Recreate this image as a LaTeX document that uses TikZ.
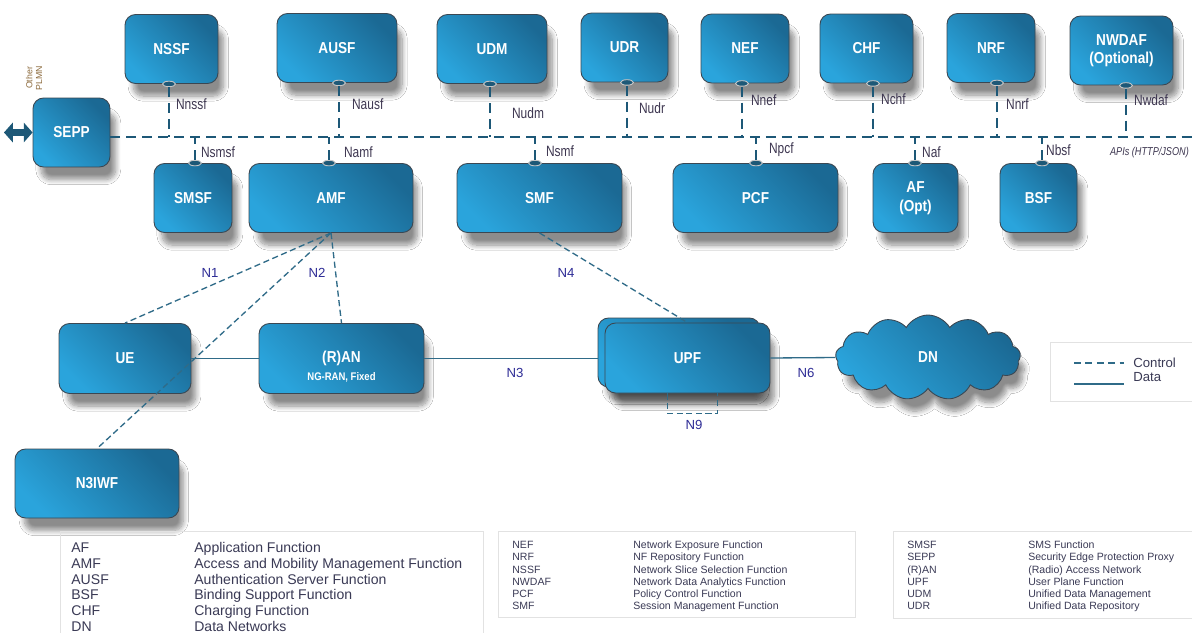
\documentclass[tikz,border=0pt]{standalone}
\usepackage{fontspec}
\setmainfont{Liberation Sans}
\newfontfamily\narrowfont{Liberation Sans}[FakeStretch=0.8]
\newfontfamily\boxfont{Liberation Sans}[FakeStretch=0.86]
\usepackage{tikz}
\usetikzlibrary{shapes.geometric, shapes.symbols, arrows.meta, positioning, shadows.blur}

\definecolor{nfdark}{HTML}{1B6994}
\definecolor{nflight}{HTML}{2AA4DC}
\definecolor{nfedge}{HTML}{3B4752}
\definecolor{sbi}{HTML}{1D5877}
\definecolor{ifc}{HTML}{3D3650}
\definecolor{refc}{HTML}{2E2C96}
\definecolor{lnk}{HTML}{2F6B88}
\definecolor{txtc}{HTML}{3A3A55}
\definecolor{framec}{HTML}{E2E2E2}
\definecolor{plmnc}{HTML}{8C6A3C}

\begin{document}
\begin{tikzpicture}[x=0.02cm, y=-0.02cm,
    nf/.style={draw=nfedge, line width=0.5pt, rounded corners=6pt,
      top color=nfdark, bottom color=nflight, shading angle=-45,
      minimum height=1.38cm, text=white, align=center,
      font=\boxfont\bfseries\fontsize{9}{10.5}\selectfont,
      blur shadow={shadow xshift=4pt, shadow yshift=-8pt, shadow scale=0.97,
        shadow opacity=45, shadow blur radius=3pt, shadow blur steps=10}},
    port/.style={ellipse, draw=gray!45, fill=sbi, line width=0.5pt,
      minimum width=0.26cm, minimum height=0.11cm, inner sep=0pt},
    sbiline/.style={sbi, line width=1.6pt, dash pattern=on 5.7pt off 3.4pt},
    ifl/.style={text=ifc, font=\narrowfont\fontsize{8.5}{10}\selectfont, anchor=west, inner sep=1pt},
    ref/.style={text=refc, font=\fontsize{7.5}{9}\selectfont, inner sep=1pt},
    ctrl/.style={lnk, line width=0.75pt, dash pattern=on 3.5pt off 2pt},
    data/.style={lnk, line width=0.75pt},
    frm/.style={draw=framec, line width=0.6pt, anchor=north west, inner sep=0pt},
    abbr/.style={anchor=north west, inner sep=0pt, text=txtc}]

  \path[fill=white, use as bounding box] (0,0) rectangle (1192,632);

  % service based functions, top row
  \foreach \n/\t/\x/\y/\w in {nssf/NSSF/171.5/49/1.86cm, ausf/AUSF/337/48/2.4cm,
      udm/UDM/492/49/2.2cm, udr/UDR/624.5/47.5/1.74cm, nef/NEF/745/48.5/1.76cm,
      chf/CHF/866.5/48.5/1.86cm, nrf/NRF/991/48/1.76cm,
      nwdaf/{NWDAF\\(Optional)}/1121.5/50.5/2.06cm}
    \node[nf, minimum width=\w] (\n) at (\x,\y) {\t};
  \node[nf, minimum width=1.54cm] (sepp) at (71.5,132.5) {SEPP};

  % service based functions, second row
  \foreach \n/\t/\x/\w in {smsf/SMSF/193/1.56cm, amf/AMF/331/3.28cm, smf/SMF/539.5/3.3cm,
      pcf/PCF/755.5/3.3cm, af/{AF\\(Opt)}/915.5/1.7cm, bsf/BSF/1038.5/1.54cm}
    \node[nf, minimum width=\w] (\n) at (\x,198) {\t};

  % access and user plane
  \node[nf, minimum width=2.64cm, minimum height=1.4cm] (ue) at (125,358.5) {UE};
  \node[nf, minimum width=3.3cm, minimum height=1.4cm,
    label={[anchor=south, yshift=3pt, text=white, font=\boxfont\bfseries\fontsize{6.3}{7}\selectfont]south:NG-RAN, Fixed}]
    (ran) at (341.5,358.5) {(R)AN};
  \node[nf, minimum width=3.24cm] (upfb) at (679,352.5) {};
  \node[nf, minimum width=3.3cm, minimum height=1.4cm] (upf) at (687.5,358) {UPF};
  \node[nf, cloud, sharp corners, cloud puffs=13, cloud puff arc=120, aspect=2.2,
    minimum width=3.7cm, minimum height=1.7cm] (dn) at (928,357.5) {DN};
  \node[nf, minimum width=3.28cm] (n3iwf) at (97,483.5) {N3IWF};

  % service bus
  \coordinate (bus) at (1200,137);
  \draw[sbiline] (sepp.east |- bus) -- (bus);
  \foreach \n/\x/\lab/\lx/\ly in {nssf/169/Nnssf/174/104, ausf/339/Nausf/350/104,
      udm/490/Nudm/510/113, udr/627/Nudr/637/108, nef/742/Nnef/749/100,
      chf/873/Nchf/879/99, nrf/997/Nnrf/1004/104, nwdaf/1126/Nwdaf/1132/100}{
    \node[port] (p-\n) at (\x,0 |- \n.south) {};
    \draw[sbiline] (p-\n) -- (p-\n |- bus);
    \node[ifl] (l-\n) at (\lx,\ly) {\lab};
  }
  \foreach \n/\x/\lab/\lx/\ly in {smsf/195/Nsmsf/199/152, amf/329/Namf/342/152,
      smf/535/Nsmf/544/151, pcf/756/Npcf/767/150, af/915/Naf/920/152, bsf/1042/Nbsf/1044/150}{
    \node[port] (p-\n) at (\x,0 |- \n.north) {};
    \draw[sbiline] (p-\n) -- (p-\n |- bus);
    \node[ifl] (l-\n) at (\lx,\ly) {\lab};
  }
  \node[ifl, font=\narrowfont\itshape\fontsize{6.5}{7}\selectfont] (apis) at (1108,153) {APIs (HTTP/JSON)};

  % roaming towards other PLMN
  \coordinate (plmn) at (4,132.5);
  \draw[sbi, line width=4pt, {Triangle[length=5pt,width=11pt]}-{Triangle[length=5pt,width=11pt]}]
    (plmn) -- (sepp.west);
  \node[rotate=90, text=plmnc, align=center, inner sep=0pt,
    font=\fontsize{5}{5.5}\selectfont] (plmn-l) at (34,78) {Other\\PLMN};

  % reference points
  \draw[ctrl] (amf.south) -- (ue.north);
  \draw[ctrl] (amf.south) -- (ran.north);
  \draw[ctrl] (amf.south) -- (n3iwf.north);
  \draw[ctrl] (smf.south) -- (upf.north);
  \draw[data] (ue.east) -- (ran.west);
  \draw[data] (ran.east) -- (ran.east -| upfb.west);
  \draw[data] (upf.east) -- (dn.west);
  \draw[ctrl] ([xshift=-0.4cm]upf.south) -- ++(0,20) -- ++(50,0) -- ++(0,-20);
  \node[ref] (n1) at (210,273) {N1};
  \node[ref] (n2) at (317,273) {N2};
  \node[ref] (n4) at (566,273) {N4};
  \node[ref] (n3) at (515,373) {N3};
  \node[ref] (n6) at (806,373) {N6};
  \node[ref] (n9) at (694,425) {N9};

  % legend
  \node[frm, minimum width=3cm, minimum height=1.18cm] (legend) at (1050,342) {};
  \node[abbr, anchor=west, font=\fontsize{7.5}{9}\selectfont] (lg-ctrl) at (1133,363) {Control};
  \node[abbr, anchor=west, font=\fontsize{7.5}{9}\selectfont] (lg-data) at (1133,377) {Data};
  \draw[ctrl, dash pattern=on 4pt off 2.5pt] ([xshift=-1.18cm]lg-ctrl.west) -- ++(50,0);
  \draw[data] ([xshift=-1.18cm, yshift=-4pt]lg-data.west) -- ++(50,0);

  % abbreviations
  \node[frm, minimum width=8.46cm, minimum height=2.4cm] (tab1) at (60,531) {};
  \node[abbr, font=\fontsize{8}{9}\selectfont] (tab1-txt) at (71,541) {%
    \begin{tabular}{@{}p{2.46cm}@{}l@{}}
      AF & Application Function\\
      AMF & Access and Mobility Management Function\\
      AUSF & Authentication Server Function\\
      BSF & Binding Support Function\\
      CHF & Charging Function\\
      DN & Data Networks
    \end{tabular}};
  \node[frm, minimum width=7.14cm, minimum height=1.72cm] (tab2) at (498,531) {};
  \node[abbr, font=\fontsize{6}{7}\selectfont] (tab2-txt) at (512,539.5) {%
    \begin{tabular}{@{}p{2.42cm}@{}l@{}}
      NEF & Network Exposure Function\\
      NRF & NF Repository Function\\
      NSSF & Network Slice Selection Function\\
      NWDAF & Network Data Analytics Function\\
      PCF & Policy Control Function\\
      SMF & Session Management Function
    \end{tabular}};
  \node[frm, minimum width=6.2cm, minimum height=1.74cm] (tab3) at (893,531) {};
  \node[abbr, font=\fontsize{6}{7}\selectfont] (tab3-txt) at (907,539.5) {%
    \begin{tabular}{@{}p{2.42cm}@{}l@{}}
      SMSF & SMS Function\\
      SEPP & Security Edge Protection Proxy\\
      (R)AN & (Radio) Access Network\\
      UPF & User Plane Function\\
      UDM & Unified Data Management\\
      UDR & Unified Data Repository
    \end{tabular}};
\end{tikzpicture}
\end{document}
